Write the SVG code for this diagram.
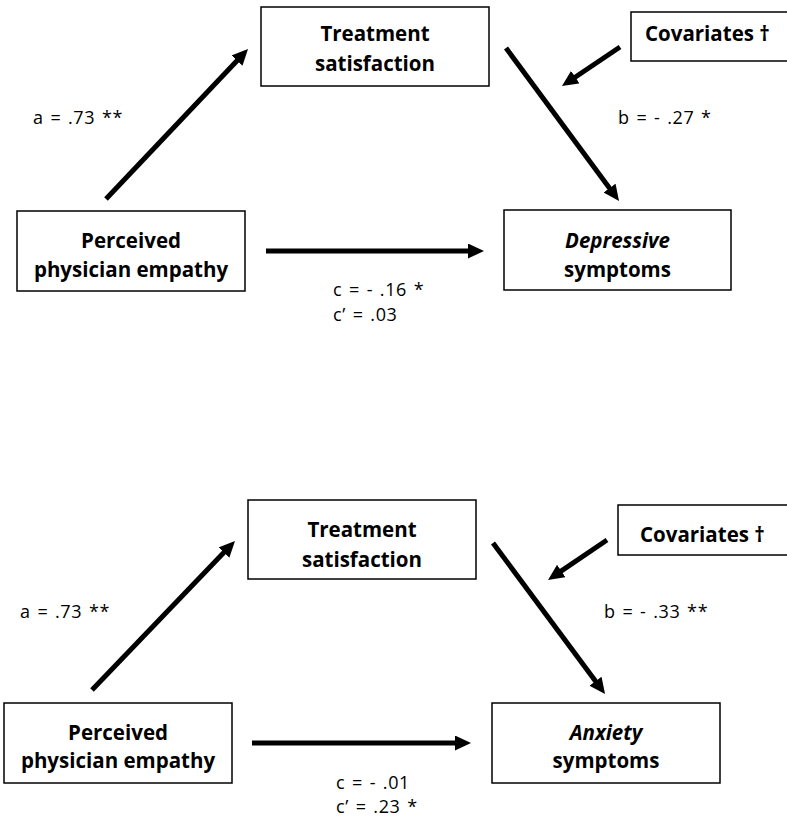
<svg xmlns="http://www.w3.org/2000/svg" width="787" height="818" viewBox="0 0 787 818">
<style>
.box{fill:#fff;stroke:#000;stroke-width:1.5}
.nt{font-family:"Open Sans","Liberation Sans",sans-serif;font-weight:bold;font-size:20.5px;fill:#000;text-anchor:middle}
.st{font-family:"Open Sans","Liberation Sans",sans-serif;font-weight:bold;font-size:20.5px;fill:#000}
.lb{font-family:"Open Sans","Liberation Sans",sans-serif;font-size:18px;letter-spacing:0.6px;word-spacing:1.5px;fill:#000}
.ar{stroke:#000;stroke-width:5;fill:none;marker-end:url(#ah)}
</style>
<defs>
<marker id="ah" markerUnits="userSpaceOnUse" markerWidth="16" markerHeight="15" refX="2" refY="7.5" orient="auto">
<path d="M0,0 L16,7.5 L0,15 z" fill="#000"/>
</marker>
</defs>
<rect width="787" height="818" fill="#fff"/>

<g id="top-treatment"><rect class="box" x="261" y="7" width="228" height="79"/><text class="nt" x="375" y="41">Treatment</text><text class="nt" x="375" y="71">satisfaction</text></g>
<g id="top-covariates"><rect class="box" x="631" y="12" width="160" height="49"/><text class="st" x="645" y="41">Covariates †</text></g>
<g id="top-empathy"><rect class="box" x="17" y="211" width="228" height="80"/><text class="nt" x="131" y="248">Perceived</text><text class="nt" x="131" y="277">physician empathy</text></g>
<g id="top-depressive"><rect class="box" x="504" y="210" width="227" height="80"/><text class="nt" x="617.5" y="248" font-style="italic">Depressive</text><text class="nt" x="617.5" y="277">symptoms</text></g>

<g id="bottom-treatment"><rect class="box" x="248" y="500" width="228" height="79"/><text class="nt" x="362" y="537">Treatment</text><text class="nt" x="362" y="567">satisfaction</text></g>
<g id="bottom-covariates"><rect class="box" x="618" y="505" width="173" height="50"/><text class="st" x="640" y="542">Covariates †</text></g>
<g id="bottom-empathy"><rect class="box" x="4" y="703" width="228" height="80"/><text class="nt" x="118" y="740">Perceived</text><text class="nt" x="118" y="768">physician empathy</text></g>
<g id="bottom-anxiety"><rect class="box" x="492" y="703" width="228" height="80"/><text class="nt" x="606" y="740" font-style="italic">Anxiety</text><text class="nt" x="606" y="768">symptoms</text></g>

<g id="connectors">
<line class="ar" x1="106" y1="199" x2="238.4" y2="59.2"/>
<line class="ar" x1="266" y1="251" x2="470" y2="251"/>
<line class="ar" x1="506" y1="48" x2="610.7" y2="189.7"/>
<line class="ar" x1="620" y1="47" x2="573.6" y2="78.2"/>
<line class="ar" x1="92" y1="690" x2="225.3" y2="551.1"/>
<line class="ar" x1="252" y1="743" x2="457" y2="743"/>
<line class="ar" x1="493" y1="543" x2="596.7" y2="682.8"/>
<line class="ar" x1="607" y1="540" x2="559.6" y2="572.1"/>
</g>

<g id="labels">
<text class="lb" x="33" y="124">a = .73 **</text>
<text class="lb" x="618" y="124">b = - .27 *</text>
<text class="lb" x="333" y="296">c = - .16 *</text>
<text class="lb" x="333" y="321">c’ = .03</text>
<text class="lb" x="20" y="618">a = .73 **</text>
<text class="lb" x="604" y="618">b = - .33 **</text>
<text class="lb" x="336" y="788.5">c = - .01</text>
<text class="lb" x="336" y="813">c’ = .23 *</text>
</g>
</svg>
